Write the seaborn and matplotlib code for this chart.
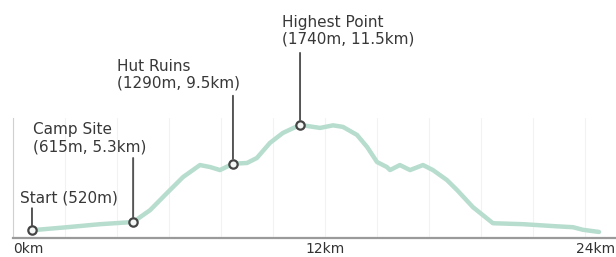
import matplotlib
matplotlib.use("Agg")
import matplotlib.pyplot as plt
import matplotlib.transforms as mtrans
import seaborn as sns
import pandas as pd

# elevation profile
dist_km = [0.73, 1.3, 2.08, 3.35, 4.62, 5.27, 5.92, 6.54, 7.19, 7.58, 7.96, 8.46,
           9.0, 9.38, 9.88, 10.38, 11.04, 11.81, 12.31, 12.69, 13.23, 13.62, 14.0,
           14.38, 14.5, 14.88, 15.27, 15.77, 16.15, 16.69, 17.08, 17.69, 18.46,
           19.62, 20.88, 21.54, 21.92, 22.54]
elev_m = [520, 535, 555, 590, 615, 752, 950, 1136, 1275, 1252, 1217, 1290,
          1299, 1357, 1531, 1647, 1740, 1705, 1735, 1717, 1624, 1484, 1310,
          1252, 1217, 1275, 1217, 1275, 1217, 1101, 985, 787, 601,
          590, 566, 555, 525, 500]

# waypoints
wp_km = [0.73, 4.62, 8.46, 11.04]
wp_elev = [520, 615, 1290, 1740]
wp_labels = ["Start (520m)", "Camp Site\n(615m, 5.3km)",
             "Hut Ruins\n(1290m, 9.5km)", "Highest Point\n(1740m, 11.5km)"]
# (dx, dy) of label and stem length, in pixels
wp_text_off = [(-12, 25), (-100, 68), (-116, 73), (-18, 78)]
wp_stem = [22, 64, 68, 72]

x_ticks = [0, 12, 24]
x_ticklabels = ["0km", "12km", "24km"]

profile = pd.DataFrame({"km": dist_km, "elev": elev_m})
points = pd.DataFrame({"km": wp_km, "elev": wp_elev})

sns.set_style("white")
plt.rcParams["font.family"] = ["DejaVu Sans"]

fig = plt.figure(figsize=(6.16, 2.57), dpi=100)
ax = fig.add_axes([13 / 616, 19 / 257, 624 / 616, 120 / 257])

ax.grid(True, color="#f2f2f2", lw=0.8)
ax.set_xticks([2 * i for i in range(13)], minor=True)
ax.grid(True, which="minor", color="#f2f2f2", lw=0.8)

sns.lineplot(data=profile, x="km", y="elev", ax=ax, color="#b7ddce", lw=3.2,
             zorder=3)
sns.scatterplot(data=points, x="km", y="elev", ax=ax, s=36, color="#f4f7f5",
                edgecolor="#444444", linewidth=1.6, zorder=5)

for k, e, lab, (dx, dy), stem in zip(wp_km, wp_elev, wp_labels, wp_text_off, wp_stem):
    ax.annotate("", xy=(k, e), xytext=(0, stem), textcoords="offset pixels",
                arrowprops=dict(arrowstyle="-", color="#555555", lw=1.4,
                                shrinkA=0, shrinkB=3.6),
                annotation_clip=False, zorder=4)
    ax.annotate(lab, xy=(k, e), xytext=(dx, dy), textcoords="offset pixels",
                ha="left", va="bottom", fontsize=11, color="#383838",
                linespacing=1.15, annotation_clip=False)

ax.set_xlim(0, 24)
ax.set_ylim(430, 1820)
ax.set_xticks(x_ticks)
ax.set_xticklabels(x_ticklabels, fontsize=10, color="#333333")
ax.set_yticks([])
ax.set_xlabel("")
ax.set_ylabel("")
ax.tick_params(axis="x", length=0, pad=3)
labels = ax.get_xticklabels()
labels[0].set_ha("left")
labels[-1].set_ha("right")
labels[-1].set_transform(labels[-1].get_transform()
                         + mtrans.ScaledTranslation(-0.22, 0, fig.dpi_scale_trans))

for s in ["top", "right"]:
    ax.spines[s].set_visible(False)
ax.spines["left"].set_color("#d0d0d0")
ax.spines["left"].set_linewidth(0.8)
ax.spines["bottom"].set_color("#9a9a9a")
ax.spines["bottom"].set_linewidth(1.6)

fig.savefig("out.png", dpi=100)
